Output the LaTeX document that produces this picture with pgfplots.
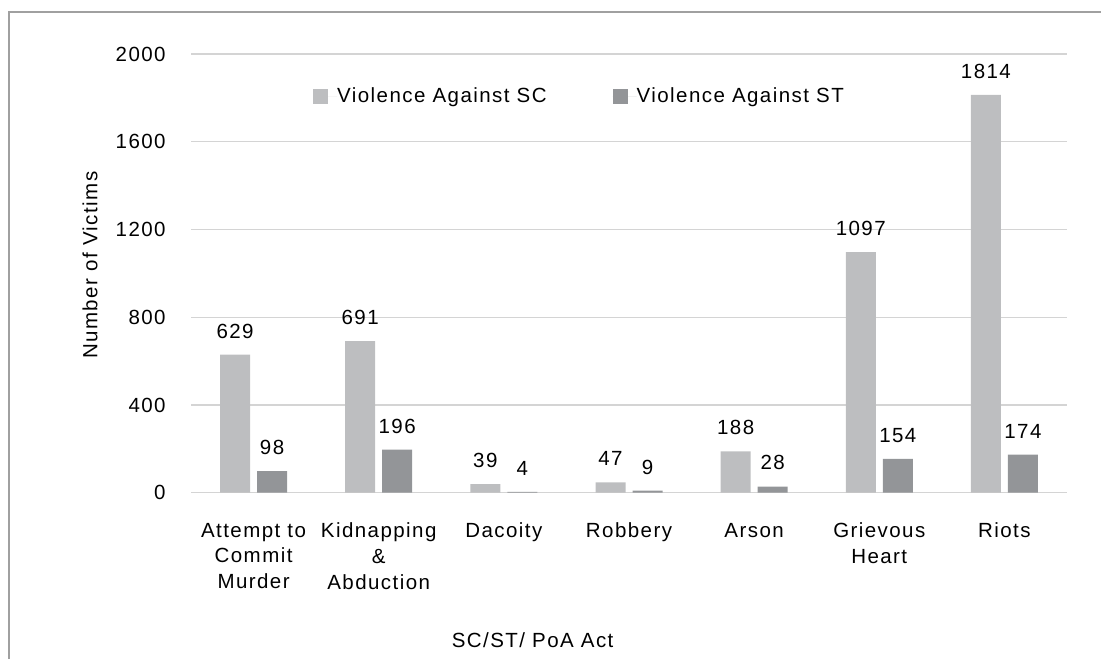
\documentclass[border=0pt]{standalone}
\usepackage{fontspec}
\setmainfont{Liberation Sans}[LetterSpace=7]
\usepackage{pgfplots}
\pgfplotsset{compat=1.18}
\definecolor{scc}{HTML}{BDBEC0}
\definecolor{stc}{HTML}{939598}
\definecolor{gridc}{HTML}{D4D4D4}
\definecolor{framec}{HTML}{A0A0A0}
\newcommand{\cf}{\fontsize{10.25}{12.85}\selectfont}
\begin{document}
\begin{tikzpicture}
\path[use as bounding box] (0,0) rectangle (550.5pt,329.5pt);
\draw[framec, line width=1pt] (4.5pt,0) -- (4.5pt,323.5pt) -- (550.5pt,323.5pt);
\begin{axis}[
  at={(95.5pt,83.15pt)}, anchor=south west,
  scale only axis, width=438pt, height=219.35pt,
  ybar, bar width=15pt,
  xmin=-0.5, xmax=6.5, ymin=0, ymax=2000,
  ytick={0,400,...,2000},
  xtick={0,...,6},
  xticklabels={{Attempt to\\Commit\\Murder},{Kidnapping\\\&\\Abduction},Dacoity,Robbery,Arson,{Grievous\\Heart},Riots},
  axis line style={draw=none},
  major tick length=0pt,
  ymajorgrids, grid style={gridc, line width=0.7pt},
  /pgf/number format/assume math mode=true,
  /pgf/number format/1000 sep={},
  font=\cf,
  ticklabel style={font=\cf},
  xticklabel style={align=center, anchor=north, inner sep=0pt, yshift=-15pt},
  yticklabel style={anchor=east, inner sep=0pt, xshift=-12.5pt},
  xlabel={SC/ST/ PoA Act},
  xlabel style={at={(axis description cs:0.39,-0.336)}, anchor=center, font=\cf},
  ylabel={Number of Victims},
  ylabel style={at={(axis description cs:-0.1153,0.519)}, anchor=center, rotate=0, font=\cf},
  nodes near coords,
  every node near coord/.append style={font=\cf, inner sep=0pt, yshift=8pt, text=black},
  legend columns=2,
  legend style={draw=none, fill=none, at={(axis description cs:0.139,0.902)}, anchor=west,
    inner sep=0pt, nodes={inner sep=0pt, anchor=west, font=\cf},
    /tikz/every even column/.append style={column sep=33pt}},
]
\addplot[fill=scc, draw=none, bar shift=-9.25pt,
  legend image code/.code={\fill[scc] (0pt,-3.75pt) rectangle (7.5pt,3.75pt); \path (0pt,0pt) -- (12pt,0pt);}]
  coordinates {(0,629) (1,691) (2,39) (3,47) (4,188) (5,1097) (6,1814)};
\addplot[fill=stc, draw=none, bar shift=9.25pt,
  legend image code/.code={\fill[stc] (0pt,-3.75pt) rectangle (7.5pt,3.75pt); \path (0pt,0pt) -- (12pt,0pt);}]
  coordinates {(0,98) (1,196) (2,4) (3,9) (4,28) (5,154) (6,174)};
\legend{Violence Against SC, Violence Against ST}
\end{axis}
\end{tikzpicture}
\end{document}
